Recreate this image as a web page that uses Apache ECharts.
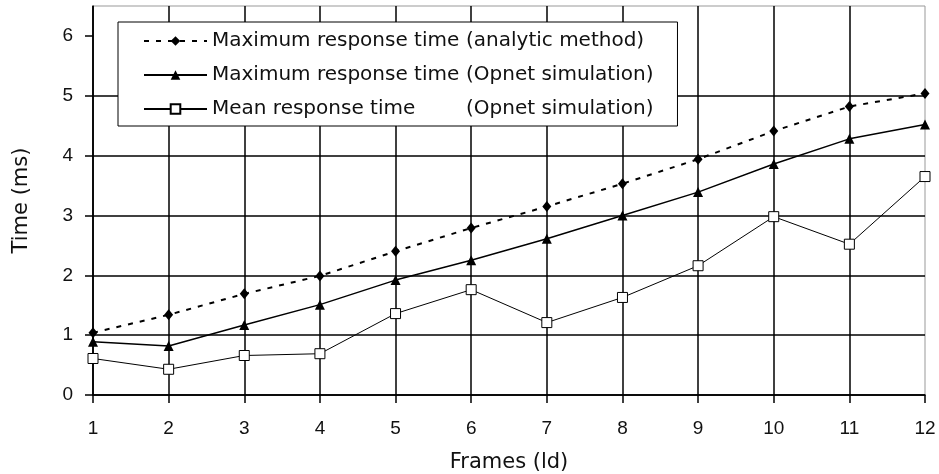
<!DOCTYPE html>
<html>
<head>
<meta charset="utf-8">
<script src="https://cdn.jsdelivr.net/npm/echarts@6/dist/echarts.min.js"></script>
<style>
  html, body { margin: 0; padding: 0; background: #fff; }
  #chart { width: 939px; height: 474px; }
</style>
</head>
<body>
<div id="chart"></div>
<script>
// frames on the x axis
const frames = [1, 2, 3, 4, 5, 6, 7, 8, 9, 10, 11, 12]
// y tick labels
const timeTicks = [0, 1, 2, 3, 4, 5, 6]

// values (ms)
const maxAnalytic = [1.04, 1.34, 1.69, 1.99, 2.40, 2.79, 3.15, 3.53, 3.94, 4.41, 4.82, 5.04]
const maxOpnet = [0.89, 0.82, 1.17, 1.51, 1.92, 2.25, 2.61, 3.00, 3.39, 3.86, 4.28, 4.52]
const meanOpnet = [0.61, 0.43, 0.66, 0.69, 1.36, 1.76, 1.21, 1.63, 2.16, 2.98, 2.52, 3.65]

const legendNames = [
  ['Maximum response time ', '(analytic method)'],
  ['Maximum response time ', '(Opnet simulation)'],
  ['Mean response time', '(Opnet simulation)']
]

const textFont = '"DejaVu Sans", sans-serif'
const numFont = '"Liberation Sans", Arial, sans-serif'

// width of the first part of the legend text so the brackets line up
const ctx = document.createElement('canvas').getContext('2d')
ctx.font = '20px "DejaVu Sans"'
const headWidth = Math.ceil(ctx.measureText(legendNames[0][0]).width)

const pairs = vals => vals.map((v, i) => [frames[i], v])

var myChart = echarts.init(document.getElementById('chart'))

var option = {
  backgroundColor: '#fff',
  animation: false,
  grid: {
    left: 93,
    right: 14,
    top: 6,
    bottom: 79,
    outerBoundsMode: 'none',
    show: true,
    borderColor: '#999',
    borderWidth: 1,
    backgroundColor: 'transparent'
  },
  legend: {
    orient: 'vertical',
    left: 118,
    top: 22,
    padding: [9, 24, 7, 25],
    itemWidth: 63,
    itemHeight: 12,
    itemGap: 14,
    backgroundColor: '#fff',
    borderColor: '#000',
    borderWidth: 1,
    formatter: function (name) {
      const p = legendNames.find(n => n.join('|') === name)
      return '{a|' + p[0] + '}{b|' + p[1] + '}'
    },
    textStyle: {
      fontFamily: textFont,
      fontSize: 20,
      color: '#111',
      rich: {
        a: { fontFamily: textFont, fontSize: 20, color: '#111', width: headWidth },
        b: { fontFamily: textFont, fontSize: 20, color: '#111' }
      }
    },
    data: legendNames.map(n => n.join('|'))
  },
  xAxis: {
    type: 'value',
    min: 1,
    max: 12,
    interval: 1,
    name: 'Frames (ld)',
    nameLocation: 'middle',
    nameGap: 57,
    nameTextStyle: { fontFamily: textFont, fontSize: 21, color: '#111' },
    axisLine: { show: true, lineStyle: { color: '#000', width: 1.5 } },
    axisTick: { show: true, length: 8, lineStyle: { color: '#000', width: 1.5 } },
    axisLabel: { fontFamily: numFont, fontSize: 19, color: '#111', margin: 24 },
    splitLine: { show: true, showMaxLine: false, lineStyle: { color: '#000', width: 1.5 } }
  },
  yAxis: {
    type: 'value',
    min: 0,
    max: 6.5,
    interval: 1,
    name: 'Time (ms)',
    nameLocation: 'middle',
    nameGap: 61,
    nameTextStyle: { fontFamily: textFont, fontSize: 21, color: '#111' },
    axisLine: { show: true, lineStyle: { color: '#000', width: 1.5 } },
    axisTick: { show: true, length: 8, customValues: timeTicks, lineStyle: { color: '#000', width: 1.5 } },
    axisLabel: { fontFamily: numFont, fontSize: 19, color: '#111', margin: 20, customValues: timeTicks },
    splitLine: { show: true, showMaxLine: false, lineStyle: { color: '#000', width: 1.5 } }
  },
  series: [
    {
      name: legendNames[0].join('|'),
      type: 'line',
      data: pairs(maxAnalytic),
      symbol: 'diamond',
      symbolSize: [9, 11],
      itemStyle: { color: '#000' },
      lineStyle: { color: '#000', width: 2, type: [5, 7] },
      z: 4
    },
    {
      name: legendNames[1].join('|'),
      type: 'line',
      data: pairs(maxOpnet),
      symbol: 'triangle',
      symbolSize: 10,
      itemStyle: { color: '#000' },
      lineStyle: { color: '#000', width: 1.5 },
      z: 4
    },
    {
      name: legendNames[2].join('|'),
      type: 'line',
      data: pairs(meanOpnet),
      symbol: 'rect',
      symbolSize: 10,
      itemStyle: { color: '#fff', borderColor: '#000', borderWidth: 1 },
      lineStyle: { color: '#000', width: 1 },
      z: 4
    }
  ]
}

myChart.setOption(option, true)
</script>
</body>
</html>
